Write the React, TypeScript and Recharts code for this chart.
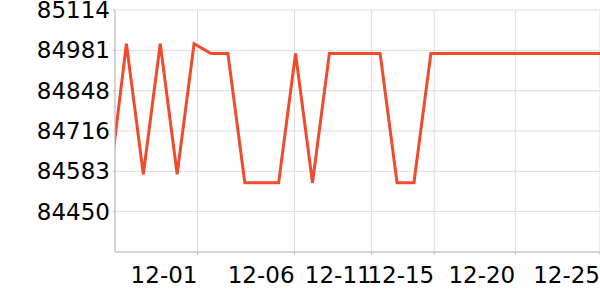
import { LineChart, Line, XAxis, YAxis, CartesianGrid } from 'recharts'

// sample slots (point -1 falls just left of the visible window)
const slots = [-1, 0, 1, 2, 3, 4, 5, 6, 7, 8, 9, 10, 11, 12, 13, 14, 15, 16, 17, 18, 19, 20, 21, 22, 23, 24, 25, 26, 27, 28]
const values = [
  84545, 85003, 84573, 85003, 84573, 85003, 84971, 84971, 84545, 84545,
  84545, 84971, 84545, 84971, 84971, 84971, 84971, 84545, 84545, 84971,
  84971, 84971, 84971, 84971, 84971, 84971, 84971, 84971, 84971, 84971,
]

const dateTicks = [4.2, 9.94, 14.5, 18.2, 22.99, 28]
const dateLabels = ['12-01', '12-06', '12-11', '12-15', '12-20', '12-25']

const yTicks = [84450, 84582.8, 84715.6, 84848.4, 84981.2, 85114]

const data = slots.map((s, i) => ({ slot: s, value: values[i] }))

const font = 'DejaVu Sans'

function DateTick(props: any) {
  const { x, y, payload } = props
  const idx = dateTicks.indexOf(payload.value)
  return (
    <text x={x} y={y} dy="0.71em" textAnchor="end" fontSize={23} fontFamily={font} fill="#000">
      {dateLabels[idx]}
    </text>
  )
}

export default function App() {
  return (
    <div style={{ position: 'absolute', left: 0, top: 0, width: 600, height: 300 }}>
      <LineChart width={600} height={300} data={data} margin={{ top: 10, right: 0, bottom: 0, left: 0 }}>
        <CartesianGrid stroke="#dcdcdc" strokeWidth={1} />
        <XAxis
          dataKey="slot"
          type="number"
          domain={[-0.675, 28]}
          allowDataOverflow
          ticks={dateTicks}
          interval={0}
          height={48}
          tickSize={3}
          tickMargin={12}
          stroke="#bbbbbb"
          tick={<DateTick />}
        />
        <YAxis
          type="number"
          domain={[84317.2, 85114]}
          allowDataOverflow
          ticks={yTicks}
          interval={0}
          width={115}
          tickSize={2}
          tickMargin={3}
          stroke="#bbbbbb"
          tickFormatter={(v: number) => String(Math.round(v))}
          tick={{ fontSize: 23, fontFamily: font, fill: '#000' }}
        />
        <Line
          type="linear"
          dataKey="value"
          stroke="#ef4b2c"
          strokeWidth={3}
          dot={false}
          isAnimationActive={false}
        />
      </LineChart>
    </div>
  )
}
